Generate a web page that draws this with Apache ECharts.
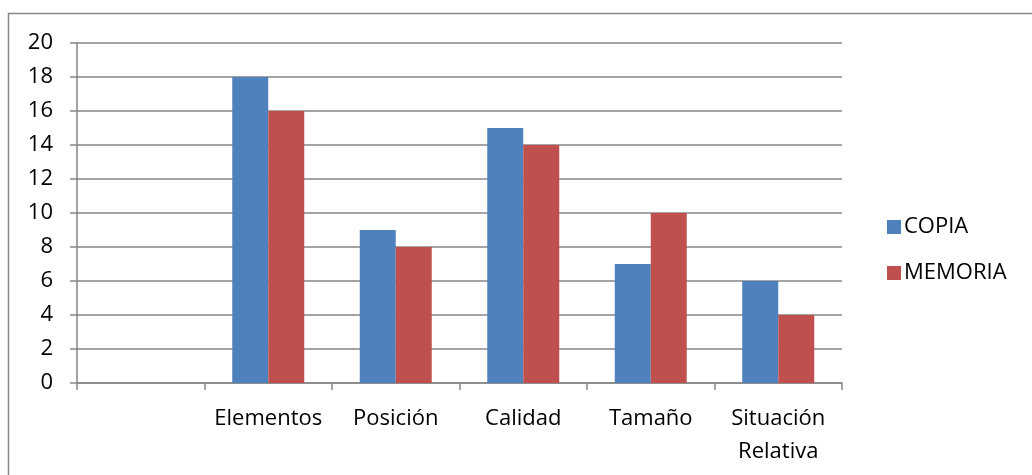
<!DOCTYPE html>
<html>
<head>
<meta charset="utf-8">
<script src="https://cdn.jsdelivr.net/npm/echarts@6/dist/echarts.min.js"></script>
<style>
  html, body { margin: 0; padding: 0; background: #fff; }
  #chart { width: 1032px; height: 475px; }
</style>
</head>
<body>
<div id="chart"></div>
<script>
// Categories (the first slot is intentionally blank)
const categories = ['', 'Elementos', 'Posición', 'Calidad', 'Tamaño', 'Situación\nRelativa'];
const copia = [null, 18, 9, 15, 7, 6];
const memoria = [null, 16, 8, 14, 10, 4];
const seriesNames = ['COPIA', 'MEMORIA'];

const FONT = '"Open Sans", "Noto Sans", sans-serif';
const GRID = '#868686';

const chart = echarts.init(document.getElementById('chart'), null, { renderer: 'canvas' });

chart.setOption({
  animation: false,
  backgroundColor: '#fff',
  graphic: [{
    type: 'rect',
    shape: { x: 8.5, y: 13.5, width: 1100, height: 600 },
    style: { fill: 'none', stroke: '#878787', lineWidth: 1.5 },
    silent: true
  }],
  grid: { left: 77, right: 190, top: 43, bottom: 92, containLabel: false },
  legend: {
    orient: 'vertical',
    left: 882,
    top: 211,
    itemWidth: 14,
    itemHeight: 14,
    itemGap: 24,
    icon: 'rect',
    textStyle: { fontFamily: FONT, fontSize: 22, color: '#000', padding: [0, 0, 0, -2] },
    data: seriesNames
  },
  xAxis: {
    type: 'category',
    data: categories,
    axisLine: { lineStyle: { color: GRID, width: 1.5 } },
    axisTick: { show: true, length: 7, lineStyle: { color: GRID, width: 1.5 } },
    axisLabel: { interval: 0, color: '#000', fontFamily: FONT, fontSize: 22, margin: 19, lineHeight: 33 }
  },
  yAxis: {
    type: 'value',
    min: 0,
    max: 20,
    interval: 2,
    axisLine: { show: true, lineStyle: { color: GRID, width: 1.5 } },
    axisTick: { show: true, length: 7, lineStyle: { color: GRID, width: 1.5 } },
    splitLine: { lineStyle: { color: GRID, width: 1.5 } },
    axisLabel: { color: '#000', fontFamily: FONT, fontSize: 22, margin: 24, align: 'right' }
  },
  series: [
    {
      name: seriesNames[0],
      type: 'bar',
      data: copia,
      barWidth: 36,
      barGap: '0%',
      itemStyle: { color: '#4F81BD' }
    },
    {
      name: seriesNames[1],
      type: 'bar',
      data: memoria,
      barWidth: 36,
      barGap: '0%',
      itemStyle: { color: '#C0504D' }
    }
  ]
});
</script>
</body>
</html>
